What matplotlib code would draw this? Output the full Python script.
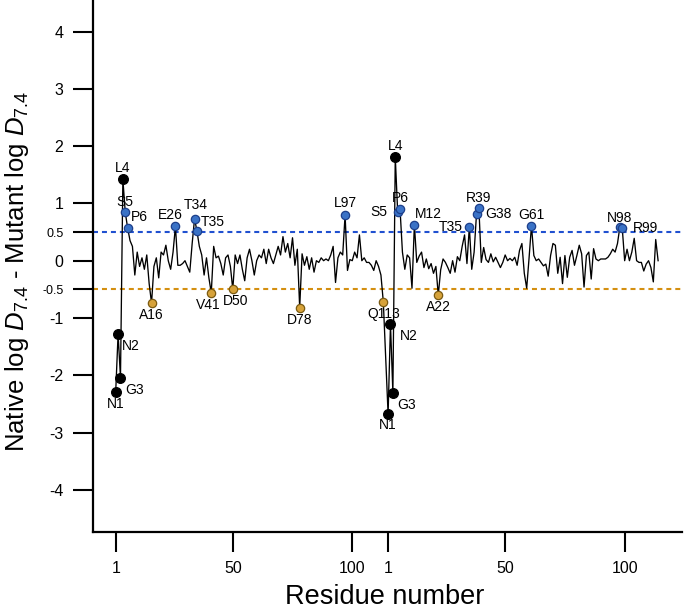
import numpy as np
import matplotlib
matplotlib.use("Agg")
import matplotlib.pyplot as plt

plt.rcParams['font.family'] = ['Liberation Sans', 'DejaVu Sans']
plt.rcParams['mathtext.fontset'] = 'custom'
plt.rcParams['mathtext.rm'] = 'Liberation Sans'
plt.rcParams['mathtext.it'] = 'Liberation Sans:italic'

# ---- data: difference in log D7.4 per residue, two proteins plotted back to back ----
values1 = [
    -2.29, -1.28, -2.04, 1.42, 0.845, 0.57, 0.35, 0.25, -0.25, 0.15,
    -0.1, 0.05, -0.15, 0.1, -0.4, -0.74, -0.1, 0.05, -0.3, 0.15,
    0.1, 0.27, 0.0, -0.15, 0.15, 0.60, -0.08, -0.08, -0.05, 0.0,
    -0.1, -0.2, 0.3, 0.73, 0.52, 0.25, 0.1, -0.25, 0.05, -0.3,
    -0.56, 0.25, 0.05, 0.08, -0.05, -0.25, 0.05, 0.1, -0.1, -0.50,
    0.1, -0.05, 0.1, -0.15, -0.35, 0.05, 0.2, 0.0, -0.25, 0.0,
    0.1, 0.05, 0.2, -0.05, 0.2, 0.05, -0.05, 0.1, 0.25, 0.1,
    0.42, 0.15, 0.3, 0.05, 0.4, -0.08, 0.2, -0.82, 0.12, -0.08,
    0.07, -0.15, 0.05, -0.2, 0.0, -0.03, 0.05, 0.0, 0.03, 0.0,
    0.1, 0.25, -0.38, 0.05, 0.15, 0.1, 0.80, -0.17, 0.02, 0.0,
    0.15, 0.05, 0.45, 0.0, 0.05, -0.03, -0.03, -0.08, -0.17, 0.0,
    -0.1, -0.25, -0.72,
]
values2 = [
    -2.68, -1.11, -2.31, 1.815, 0.855, 0.90, 0.15, -0.15, 0.1, 0.05,
    -0.48, 0.63, -0.03, 0.08, 0.15, -0.12, 0.03, -0.14, -0.05, -0.22,
    -0.1, -0.60, -0.16, 0.03, -0.03, -0.12, -0.22, 0.0, -0.2, 0.07,
    0.0, 0.25, 0.45, -0.05, 0.59, -0.15, 0.15, 0.815, 0.915, -0.03,
    0.23, 0.02, -0.03, 0.12, -0.02, 0.06, -0.03, -0.12, -0.03, 0.1,
    0.0, 0.04, 0.0, 0.06, -0.08, 0.18, 0.3, -0.22, -0.48, 0.05,
    0.61, 0.09, 0.0, 0.03, -0.03, -0.09, -0.06, -0.27, 0.09, 0.3,
    0.27, -0.22, 0.06, -0.4, 0.09, -0.29, 0.06, 0.18, -0.08, 0.09,
    0.27, 0.12, -0.46, 0.09, 0.15, -0.32, 0.21, 0.03, 0.0, 0.03,
    0.03, 0.03, 0.06, 0.12, 0.2, 0.15, 0.3, 0.59, 0.565, 0.0,
    0.2, 0.0, 0.15, 0.39, 0.0, -0.03, -0.03, -0.18, -0.06, 0.0,
    -0.12, -0.37, 0.37, 0.0,
]

# labelled residues: name, residue number, class (k = black, b = blue, o = orange)
lab1_names = ["N1", "N2", "G3", "L4", "S5", "P6", "A16", "E26", "T34", "T35",
              "V41", "D50", "D78", "L97", "Q113"]
lab1_res = [1, 2, 3, 4, 5, 6, 16, 26, 34, 35, 41, 50, 78, 97, 113]
lab1_cls = ["k", "k", "k", "k", "b", "b", "o", "b", "b", "b", "o", "o", "o", "b", "o"]

lab2_names = ["N1", "N2", "G3", "L4", "S5", "P6", "M12", "A22", "T35", "G38",
              "R39", "G61", "N98", "R99"]
lab2_res = [1, 2, 3, 4, 5, 6, 12, 22, 35, 38, 39, 61, 98, 99]
lab2_cls = ["k", "k", "k", "k", "b", "b", "b", "o", "b", "b", "b", "b", "b", "b"]

tick_labels = ["1", "50", "100", "1", "50", "100"]
tick_res = [1, 50, 100, 1, 50, 100]
ytick_vals = [4, 3, 2, 1, 0.5, 0, -0.5, -1, -2, -3, -4]
ytick_labels = ["4", "3", "2", "1", "0.5", "0", "-0.5", "-1", "-2", "-3", "-4"]
threshold_hi = 0.5
threshold_lo = -0.5

# ---- layout / style ----
OFFSET2 = 114  # x shift of the second protein
label_off1 = {"N1": (0, -12), "N2": (13, -12), "G3": (14, -12), "L4": (0, 11),
              "S5": (0, 10), "P6": (12, 11), "A16": (0, -12), "E26": (-5, 11),
              "T34": (1, 14), "T35": (16, 9), "V41": (-3, -12), "D50": (3, -12),
              "D78": (0, -12), "L97": (0, 12), "Q113": (0, -12)}
label_off2 = {"N1": (0, -11), "N2": (18, -12), "G3": (14, -12), "L4": (0, 11),
              "S5": (-19, 0), "P6": (0, 11), "M12": (14, 11), "A22": (0, -12),
              "T35": (-19, 0), "G38": (22, 0), "R39": (0, 10), "G61": (0, 11),
              "N98": (0, 9), "R99": (23, 0)}
face = {"k": "black", "b": "#3a72c6", "o": "#d6a23a"}
edge = {"k": "black", "b": "#1d3f8a", "o": "#7a5a12"}
msize = {"k": 7, "b": 6, "o": 6}

x1 = np.arange(1, len(values1) + 1)
x2 = np.arange(1, len(values2) + 1) + OFFSET2
xs = np.concatenate([x1, x2])
ys = np.concatenate([values1, values2])

fig = plt.figure(figsize=(6.85, 6.14), dpi=100)
ax = fig.add_axes([93 / 685, 1 - 531.7 / 614, (682 - 93) / 685, 531.7 / 614])

ax.axhline(threshold_hi, color="#2050d0", lw=1.5, ls=(0, (2.4, 1.9)), zorder=1)
ax.axhline(threshold_lo, color="#d48f10", lw=1.5, ls=(0, (2.4, 1.9)), zorder=1)

ax.plot(xs, ys, color="black", lw=0.95, zorder=2)

def draw_labels(names, res, cls, vals, shift, offs):
    for n, r, c in zip(names, res, cls):
        xv = r + shift
        yv = vals[r - 1]
        ax.plot([xv], [yv], marker="o", ms=msize[c], mfc=face[c], mec=edge[c],
                mew=0.9, zorder=4)
        dx, dy = offs[n]
        ax.annotate(n, (xv, yv), xytext=(dx, dy), textcoords="offset pixels",
                    ha="center", va="center", fontsize=10, zorder=5)

draw_labels(lab1_names, lab1_res, lab1_cls, values1, 0, label_off1)
draw_labels(lab2_names, lab2_res, lab2_cls, values2, OFFSET2, label_off2)

ax.set_xlim(-8.5, 238)
ax.set_ylim(-4.73, 4.55)

tick_pos = [t if i < 3 else t + OFFSET2 for i, t in enumerate(tick_res)]
ax.set_xticks(tick_pos)
ax.set_xticklabels(tick_labels)
ax.set_yticks(ytick_vals)
ax.set_yticklabels(ytick_labels)
ax.tick_params(axis="both", direction="out", length=14.4, width=1.5,
               labelsize=11.5, pad=7)
for lab in ax.get_yticklabels():
    if lab.get_text() in ("0.5", "-0.5"):
        lab.set_fontsize(9)

for s in ("top", "right"):
    ax.spines[s].set_visible(False)
for s in ("left", "bottom"):
    ax.spines[s].set_linewidth(1.6)

fig.text(17 / 685, 1 - 271 / 614,
         r"Native log $\mathit{D}_{7.4}$ - Mutant log $\mathit{D}_{7.4}$",
         rotation=90, ha="center", va="center", fontsize=18.5)
fig.text(385 / 685, 1 - 597 / 614, "Residue number", ha="center", va="center",
         fontsize=19.5)

fig.savefig("out.png", dpi=100)
